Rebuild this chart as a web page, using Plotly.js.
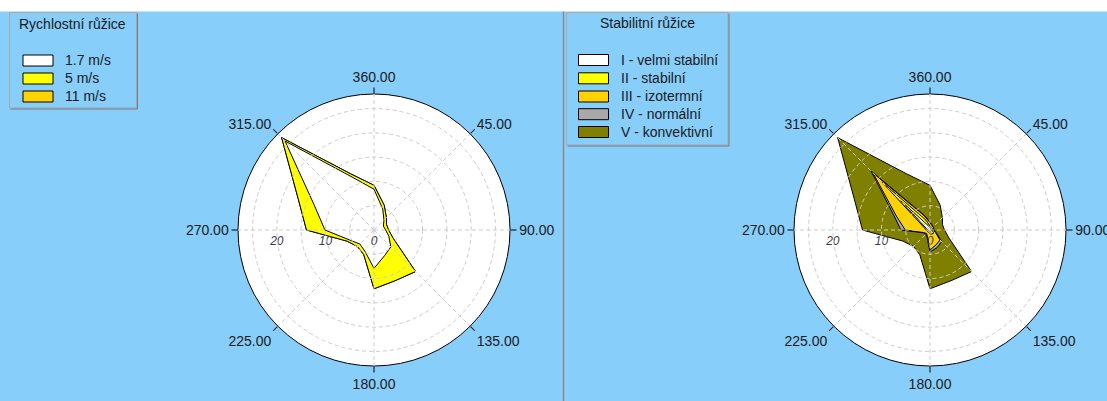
<!DOCTYPE html>
<html><head><meta charset="utf-8">
<script src="https://cdn.plot.ly/plotly-3.0.1.min.js"></script>
<style>html,body{margin:0;padding:0;background:#fff;} #chart{width:1107px;height:401px;}</style>
</head><body><div id="chart"></div>
<script>
// ---- data ----
const directions = [0,22.5,45,67.5,90,112.5,135,157.5,180,202.5,225,247.5,270,292.5,315,337.5];
const dirTickVals = [0,45,90,135,180,225,270,315];
const dirTickText = ['360.00','45.00','90.00','135.00','180.00','225.00','270.00','315.00'];
const radialTickVals = [0,10,20];
const radialTickText = ['0','10','20'];
const ringVals = [5,10,15,20,25];

const speedTitle = 'Rychlostní růžice';
const speedNames = ['1.7 m/s','5 m/s','11 m/s'];
const speed_1_7 = [8.4,4.7,2.9,2.1,2.4,3.3,4.9,5.7,7.9,4.8,4.1,5.4,10.1,13.3,25.9,11.8];
const speed_5   = [0.8,0.8,0.7,0.7,0.6,0.9,7.2,5.6,4.2,0.7,0.7,0.6,3.8,3.6,1.0,0.7];
const speed_11  = [0,0,0,0,0,0,0,0,0,0,0,0,0,0,0,0];

const stabTitle = 'Stabilitní růžice';
const stabNames = ['I - velmi stabilní','II - stabilní','III - izotermní','IV - normální','V - konvektivní'];
const stab_I   = [0.5,0.3,0.3,0.3,0.3,0.3,0.5,0.4,0.4,0.3,0.3,0.3,0.4,0.8,8.5,1.0];
const stab_II  = [0.3,0.2,0.2,0.2,0.2,0.3,0.5,0.5,0.4,0.2,0.2,0.3,0.4,0.5,5.5,1.2];
const stab_III = [0.7,0.5,0.3,0.2,0.2,0.6,1.9,2.4,3.3,0.9,0.5,0.8,4.3,6.2,2.6,1.0];
const stab_IV  = [0.2,0.1,0.1,0.1,0.1,0.2,0.5,0.6,0.4,0.2,0.2,0.1,0.9,0.6,0.6,0.2];
const stab_V   = [7.5,4.4,2.7,2.0,2.2,2.8,8.7,7.4,7.6,3.9,3.6,4.5,7.9,8.8,9.7,9.1];

// ---- styles ----
const speedColors = ['#ffffff','#ffff00','#ffd200'];
const stabColors = ['#ffffff','#ffff00','#ffd200','#a9a9a9','#808000'];
const FONT = 'Liberation Sans, Arial, sans-serif';
const W = 1107, H = 401;

function cumulative(series){
  const out = []; let acc = series[0].map(()=>0);
  series.forEach(s => { acc = acc.map((v,i)=>v + s[i]); out.push(acc.slice()); });
  return out;
}
const closeArr = a => a.concat([a[0]]);

const traces = [];
function addRose(series, colors, subplot){
  const cum = cumulative(series);
  for (let k = cum.length-1; k >= 0; k--){
    traces.push({type:'scatterpolar', subplot:subplot, mode:'lines', fill:'toself',
      r: closeArr(cum[k]), theta: closeArr(directions),
      fillcolor: colors[k], line:{color:'#000', width:1}, hoverinfo:'skip', showlegend:false});
  }
}
addRose([speed_1_7, speed_5, speed_11], speedColors, 'polar');
addRose([stab_I, stab_II, stab_III, stab_IV, stab_V], stabColors, 'polar2');
traces.push({type:'scatterpolar', subplot:'polar3', r:[], theta:[], mode:'lines', showlegend:false, hoverinfo:'skip'});
traces.push({type:'scatterpolar', subplot:'polar4', r:[], theta:[], mode:'lines', showlegend:false, hoverinfo:'skip'});

const R = 136;
function dom(cx, cy){ return {x:[(cx-R)/W,(cx+R)/W], y:[1-(cy+R)/H, 1-(cy-R)/H]}; }
function basePolar(d){
  return {domain:d, bgcolor:'#ffffff',
    angularaxis:{direction:'clockwise', rotation:90, tickmode:'array', tickvals:dirTickVals, ticktext:dirTickText,
      ticks:'outside', ticklen:6, tickwidth:1, tickcolor:'#000', showline:true, linecolor:'#000', linewidth:1,
      showgrid:false, tickfont:{family:FONT, size:14, color:'#1a1a1a'}},
    radialaxis:{range:[0,28], tickmode:'array', tickvals:radialTickVals, ticktext:radialTickText, showline:false,
      showgrid:false, ticks:'', angle:180, side:'counterclockwise', tickangle:180,
      tickfont:{family:FONT, size:12, color:'#3a3a4a', style:'italic'}}
  };
}
function gridPolar(d){
  return {domain:d, bgcolor:'rgba(0,0,0,0)',
    angularaxis:{direction:'clockwise', rotation:90, tickmode:'array', tickvals:dirTickVals, showticklabels:false,
      ticks:'', showline:false, showgrid:true, gridcolor:'#cccccc', griddash:'4px,3px', gridwidth:1},
    radialaxis:{range:[0,28], tickmode:'array', tickvals:ringVals, showticklabels:false, ticks:'', showline:false,
      showgrid:true, gridcolor:'#cccccc', griddash:'4px,3px', gridwidth:1}
  };
}
const dL = dom(374,230), dR = dom(930,230);

const px = x => x/W, py = y => 1-y/H;
const shapes = [], annotations = [];
function rect(x0,y0,x1,y1,fill,line,lw,layer){
  shapes.push({type:'rect', xref:'paper', yref:'paper', x0:px(x0), x1:px(x1), y0:py(y1), y1:py(y0),
    fillcolor:fill, line:{color:line||'rgba(0,0,0,0)', width:lw===undefined?1:lw}, layer:layer||'above'});
}
function line(x0,y0,x1,y1,color,w){
  shapes.push({type:'line', xref:'paper', yref:'paper', x0:px(x0), x1:px(x1), y0:py(y0), y1:py(y1),
    line:{color:color, width:w||1}, layer:'above'});
}
function text(t,x,y,anchor){
  annotations.push({text:t, xref:'paper', yref:'paper', x:px(x), y:py(y), xanchor:anchor||'left', yanchor:'middle',
    showarrow:false, font:{family:FONT, size:14, color:'#1a1a1a'}});
}
function legendBox(x0,y0,x1,y1,title,titleX,titleY,names,colors,swX,rowYs,textX){
  rect(x0,y0,x1,y1,'rgba(0,0,0,0)','#a8a8a8',1);
  line(x1+1,y0+1,x1+1,y1+1,'#7a7a7a',1);
  line(x0+1,y1+1,x1+1,y1+1,'#7a7a7a',1);
  text(title,titleX,titleY,'center');
  names.forEach((n,i)=>{
    rect(swX,rowYs[i]-5.5,swX+30,rowYs[i]+5.5,colors[i],'#000',1);
    text(n,textX,rowYs[i],'left');
  });
}
rect(0,0,W,11.5,'#ffffff',null,0);
line(563.5,11.5,563.5,H,'#8a8a8a',1.5);
legendBox(9.5,12.5,136.5,108,speedTitle,73,24,speedNames,speedColors,23,[60.5,78.5,96.5],63);
legendBox(566.5,12.5,728,145,stabTitle,647,23.5,stabNames,stabColors,578.5,[60,78.3,96.5,114.2,132],619);

const layout = {width:W, height:H, margin:{l:0,r:0,t:0,b:0}, paper_bgcolor:'#87cefa', showlegend:false,
  polar:basePolar(dL), polar2:basePolar(dR), polar3:gridPolar(dL), polar4:gridPolar(dR),
  shapes:shapes, annotations:annotations, dragmode:false};
Plotly.newPlot('chart', traces, layout, {staticPlot:true, displayModeBar:false});
</script></body></html>
